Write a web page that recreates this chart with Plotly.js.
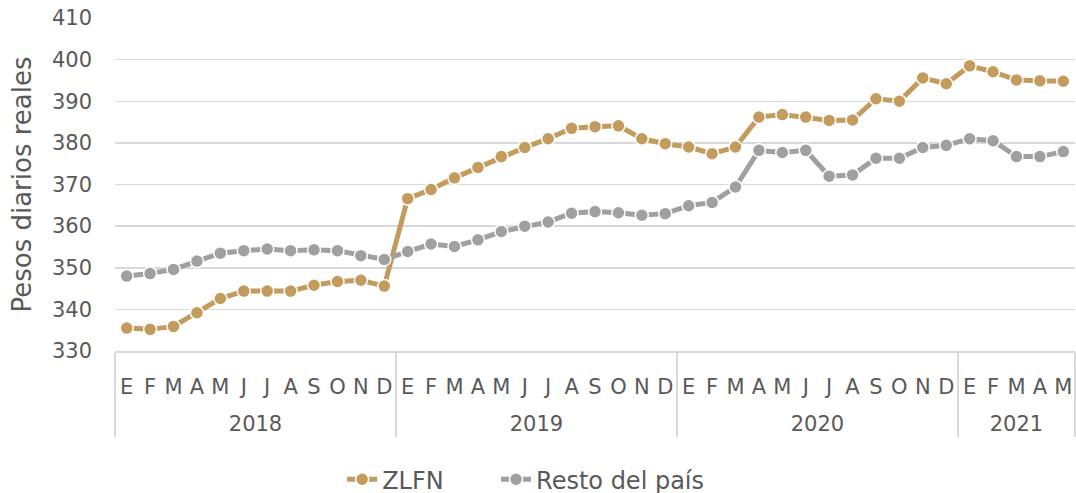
<!DOCTYPE html>
<html>
<head>
<meta charset="utf-8">
<script src="https://cdn.plot.ly/plotly-3.0.1.min.js"></script>
<style>
html,body{margin:0;padding:0;background:#fff;}
#chart{width:1076px;height:493px;}
</style>
</head>
<body>
<div id="chart"></div>
<script>
const years = ["2018","2019","2020","2021"];
const monthsPerYear = [12,12,12,5];
const monthLabels = ["E","F","M","A","M","J","J","A","S","O","N","D"];

const zlfn = [335.5,335.2,335.9,339.2,342.6,344.4,344.4,344.4,345.8,346.7,347.0,345.6,
              366.6,368.8,371.6,374.1,376.7,378.9,381.0,383.5,383.9,384.1,381.0,379.8,
              379.0,377.4,379.0,386.2,386.8,386.2,385.4,385.5,390.6,390.0,395.6,394.2,
              398.5,397.1,395.1,394.9,394.8];
const resto = [348.0,348.6,349.6,351.6,353.5,354.1,354.5,354.1,354.3,354.1,352.9,352.0,
               353.9,355.7,355.1,356.7,358.7,360.0,361.0,363.1,363.5,363.2,362.6,363.0,
               364.9,365.7,369.4,378.2,377.7,378.2,372.0,372.3,376.3,376.3,378.9,379.4,
               381.0,380.5,376.7,376.7,377.9];

// Build multicategory x: month labels made unique inside a year with zero-width spaces
const xYear = [], xMonth = [];
years.forEach((y, yi) => {
  for (let m = 0; m < monthsPerYear[yi]; m++) {
    xYear.push("<br>" + y);
    xMonth.push(monthLabels[m] + "\u200b".repeat(m));
  }
});
const nPts = xYear.length;

const FONT = "DejaVu Sans";
const TXT = "#595959";
const GOLD = "#C39B5D";
const GRAY = "#A0A0A0";

const traces = [
  {name:"ZLFN", x:[xYear,xMonth], y:zlfn, type:"scatter", mode:"lines+markers", legend:"legend",
   line:{color:GOLD, width:5}, marker:{color:GOLD, size:13, line:{color:"#fff", width:1.5}}},
  {name:"Resto del país", x:[xYear,xMonth], y:resto, type:"scatter", mode:"lines+markers", legend:"legend2",
   line:{color:GRAY, width:5}, marker:{color:GRAY, size:13, line:{color:"#fff", width:1.5}}}
];

const legendBase = {orientation:"h", xanchor:"left", xref:"container",
                    y:0.027, yanchor:"middle", yref:"container",
                    bgcolor:"rgba(0,0,0,0)",
                    font:{family:FONT, color:TXT, size:24}};

const layout = {
  width:1076, height:493,
  margin:{l:115, r:1, t:18, b:142},
  paper_bgcolor:"#fff", plot_bgcolor:"#fff",
  font:{family:FONT, color:TXT, size:21},
  showlegend:true,
  legend:Object.assign({}, legendBase, {x:0.318}),
  legend2:Object.assign({}, legendBase, {x:0.461}),
  xaxis:{type:"multicategory", range:[-0.5, nPts - 0.5], showgrid:false, showline:true,
         linecolor:"#D9D9D9", linewidth:1.5, ticks:"", tickangle:0, nticks:100,
         ticklabelstandoff:16,
         tickfont:{family:FONT, color:TXT, size:21},
         showdividers:true, dividercolor:"#D9D9D9", dividerwidth:1.5, automargin:false},
  yaxis:{range:[330,410], dtick:10, showgrid:true, gridcolor:"#D9D9D9", gridwidth:1.5,
         zeroline:false, showline:false, ticks:"", ticklabelstandoff:22,
         tickfont:{family:FONT, color:TXT, size:21}, automargin:false,
         title:{text:"Pesos diarios reales", font:{family:FONT, color:TXT, size:26}, standoff:12}}
};

Plotly.newPlot("chart", traces, layout, {displayModeBar:false, staticPlot:true});
</script>
</body>
</html>
